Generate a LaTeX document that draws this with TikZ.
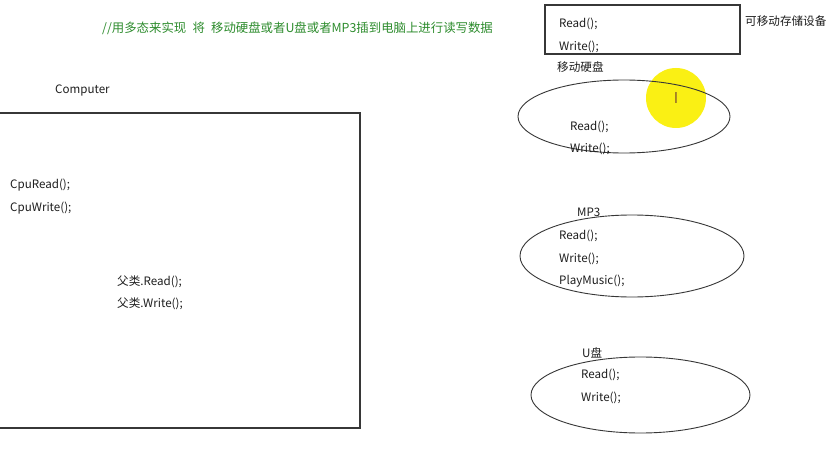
\documentclass[tikz,border=0pt]{standalone}
\usepackage{fontspec}
\setmainfont{Noto Sans CJK SC}
\usetikzlibrary{shapes.geometric}
\definecolor{linec}{RGB}{55,55,55}
\definecolor{txtc}{RGB}{30,30,30}
\definecolor{greenc}{RGB}{45,140,45}
\definecolor{hilite}{RGB}{250,240,20}
\tikzset{
  lbl/.style={anchor=west, inner sep=0pt, yshift=-1.5pt, text=txtc, font=\fontsize{11.6}{13}\selectfont},
  box/.style={draw=linec, line width=1.2pt, inner sep=0pt},
  oval/.style={draw=linec, line width=0.9pt, ellipse, inner sep=0pt},
}
\begin{document}
\begin{tikzpicture}[x=1pt,y=-1pt]
\useasboundingbox[fill=white] (0,0) rectangle (831,452);
% comment
\node[lbl, text=greenc, font=\fontsize{12.4}{14}\selectfont] (cmt) at (102,27) {//用多态来实现\hspace{0.5em}将\hspace{0.5em}移动硬盘或者U盘或者MP3插到电脑上进行读写数据};
% top box
\node[box, minimum width=195pt, minimum height=49pt] (dev) at (642.5,29.5) {};
\node[lbl] (devr) at (559,22) {Read();};
\node[lbl] (devw) at (559,45) {Write();};
\node[lbl] (devt) at (745,20) {可移动存储设备};
% highlight
\fill[hilite] (676,98) circle (30);
\node[inner sep=0pt, text=brown!70!black, font=\fontsize{15}{15}\selectfont] (cursor) at (676,98) {I};
% hard disk
\node[lbl] (hdt) at (557,66) {移动硬盘};
\node[oval, minimum width=212pt, minimum height=73pt] (hd) at (624,116.5) {};
\node[lbl] (hdr) at (570,125) {Read();};
\node[lbl] (hdw) at (570,147) {Write();};
% mp3
\node[lbl] (mpt) at (577,211) {MP3};
\node[oval, minimum width=224pt, minimum height=82pt] (mp) at (632,256) {};
\node[lbl] (mpr) at (559,234) {Read();};
\node[lbl] (mpw) at (559,257) {Write();};
\node[lbl] (mpp) at (559,280) {PlayMusic();};
% usb
\node[lbl] (ut) at (582,351) {U盘};
\node[oval, minimum width=219pt, minimum height=76pt] (u) at (640.5,395) {};
\node[lbl] (ur) at (581,373) {Read();};
\node[lbl] (uw) at (581,396) {Write();};
% computer
\node[lbl] (ct) at (55,89) {Computer};
\node[box, minimum width=370pt, minimum height=315pt] (comp) at (175,270.5) {};
\node[lbl] (cr) at (10,184) {CpuRead();};
\node[lbl] (cw) at (10,207) {CpuWrite();};
\node[lbl] (pr) at (117,280) {父类.Read();};
\node[lbl] (pw) at (117,302) {父类.Write();};
\end{tikzpicture}
\end{document}
